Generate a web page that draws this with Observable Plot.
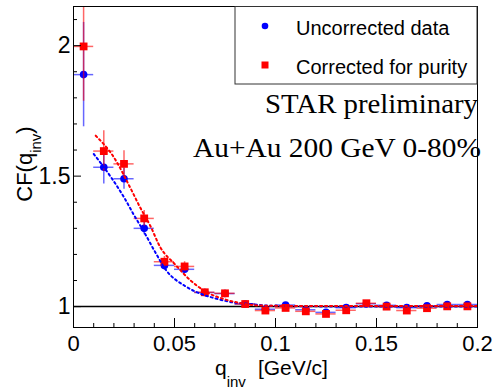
<!DOCTYPE html>
<html><head><meta charset="utf-8">
<script src="https://cdn.jsdelivr.net/npm/d3@7"></script>
<script src="https://cdn.jsdelivr.net/npm/@observablehq/plot@0.6"></script>
<style>body{margin:0;background:#fff;}</style>
</head><body><div id="chart"></div>
<script>
// ---- data ----
const qinv = [0.005,0.015,0.025,0.035,0.045,0.055,0.065,0.075,0.085,0.095,0.105,0.115,0.125,0.135,0.145,0.155,0.165,0.175,0.185,0.195];
const cfUncorr = [1.889,1.534,1.490,1.300,1.158,1.143,1.054,1.050,1.010,0.990,1.006,0.988,0.978,0.996,1.011,1.005,0.996,1.003,1.008,1.008];
const errUncorr = [0.200,0.064,0.040,0.025,0.018,0.015,0.010,0.010,0.008,0.006,0.006,0.006,0.005,0.005,0.005,0.005,0.005,0.005,0.005,0.005];
const cfCorr = [1.997,1.596,1.547,1.338,1.172,1.154,1.055,1.051,1.010,0.985,0.995,0.982,0.972,0.986,1.013,1.000,0.985,0.994,1.001,1.001];
const errCorr = [0.210,0.078,0.050,0.030,0.020,0.018,0.012,0.012,0.009,0.007,0.007,0.007,0.006,0.006,0.006,0.006,0.006,0.006,0.006,0.006];
const binHalfWidth = 0.005;

const fitUncorrQ = [0.010,0.018,0.025,0.030,0.035,0.040,0.046,0.055,0.063,0.071,0.079,0.088,0.096,0.120,0.160,0.200];
const fitUncorrCF = [1.585,1.502,1.419,1.350,1.285,1.215,1.138,1.080,1.049,1.030,1.016,1.010,1.004,1.001,1.000,1.000];
const fitCorrQ = [0.011,0.020,0.028,0.033,0.038,0.043,0.050,0.058,0.066,0.074,0.083,0.093,0.120,0.160,0.200];
const fitCorrCF = [1.655,1.572,1.457,1.380,1.310,1.227,1.164,1.100,1.055,1.030,1.013,1.004,1.002,1.002,1.002];

const xMajor = [0,0.05,0.1,0.15,0.2];
const xMinor = [0.01,0.02,0.03,0.04,0.06,0.07,0.08,0.09,0.11,0.12,0.13,0.14,0.16,0.17,0.18,0.19];
const yMajor = [1,1.5,2];
const yMinor = [1.1,1.2,1.3,1.4,1.6,1.7,1.8,1.9,2.1];

const legendLabels = ["Uncorrected data","Corrected for purity"];
const annot = ["STAR preliminary","Au+Au 200 GeV 0-80%"];

// ---- build ----
const uncorr = qinv.map((q,i)=>({q, cf:cfUncorr[i], err:errUncorr[i]}));
const corr = qinv.map((q,i)=>({q, cf:cfCorr[i], err:errCorr[i]}));
const fitU = fitUncorrQ.map((q,i)=>({q, cf:fitUncorrCF[i]}));
const fitC = fitCorrQ.map((q,i)=>({q, cf:fitCorrCF[i]}));

const W=493, H=392, mL=73, mR=16, mT=6, mB=65;
const fw = W-mL-mR, fh = H-mT-mB;
const BLUE="#0000ff", RED="#ff0000";

function series(data, color, symbol, r) {
  return [
    Plot.ruleX(data, {x:"q", y1:d=>d.cf-d.err, y2:d=>d.cf+d.err, stroke:color, strokeOpacity:0.6, strokeWidth:1.5, clip:true}),
    Plot.ruleY(data, {y:"cf", x1:d=>d.q-binHalfWidth, x2:d=>d.q+binHalfWidth, stroke:color, strokeOpacity:0.6, strokeWidth:1.5, clip:true}),
    Plot.dot(data, {x:"q", y:"cf", r, symbol, fill:color, stroke:"none"})
  ];
}

const svg = Plot.plot({
  width: W, height: H,
  marginLeft: mL, marginRight: mR, marginTop: mT, marginBottom: mB,
  style: {fontFamily:"'Liberation Sans', Arial, sans-serif", background:"white", color:"black", overflow:"visible"},
  x: {domain:[0,0.2]},
  y: {domain:[0.92,2.15]},
  marks: [
    Plot.ruleY([1], {stroke:"black", strokeWidth:1.5}),
    ...series(uncorr, BLUE, "circle", 3.8),
    ...series(corr, RED, "square", 4.4),
    Plot.line(fitU, {x:"q", y:"cf", stroke:BLUE, strokeWidth:2, strokeDasharray:"2,3", curve:"monotone-x"}),
    Plot.line(fitC, {x:"q", y:"cf", stroke:RED, strokeWidth:2, strokeDasharray:"2,3", curve:"monotone-x"}),
    Plot.tickX(xMinor, {x:d=>d, insetTop: fh-4, stroke:"black"}),
    Plot.tickX(xMajor, {x:d=>d, insetTop: fh-9, stroke:"black"}),
    Plot.tickY(yMinor, {y:d=>d, insetRight: fw-4, stroke:"black"}),
    Plot.tickY(yMajor, {y:d=>d, insetRight: fw-8, stroke:"black"}),
    Plot.axisX({ticks:xMajor, tickSize:0, tickPadding:8, fontSize:22, tickFormat:d=>String(d), label:null}),
    Plot.axisY({ticks:yMajor, tickSize:0, tickPadding:3, fontSize:23, tickFormat:d=>String(d), label:null}),
    Plot.frame({stroke:"black", strokeWidth:1})
  ]
});

const s = d3.select(svg);
const sans = "'Liberation Sans', Arial, sans-serif";
const serif = "'Liberation Serif', 'Times New Roman', serif";

// axis titles
const xt = s.append("text").attr("x",215).attr("y",375).attr("text-anchor","start").attr("font-family",sans).attr("font-size",21).attr("fill","black");
xt.append("tspan").text("q");
xt.append("tspan").attr("dy",12).attr("font-size",15).text("inv");
xt.append("tspan").attr("dy",-12).attr("dx",12).text("[GeV/c]");

const yt = s.append("text").attr("transform","translate(32,164) rotate(-90)").attr("text-anchor","middle").attr("font-family",sans).attr("font-size",22).attr("fill","black");
yt.append("tspan").text("CF(q");
yt.append("tspan").attr("dy",9).attr("font-size",15).text("inv");
yt.append("tspan").attr("dy",-9).text(")");

// legend
const lg = s.append("g").attr("text-anchor","start");
lg.append("rect").attr("x",235).attr("y",6.5).attr("width",242).attr("height",77.5).attr("fill","white").attr("stroke","#333").attr("stroke-width",1);
lg.append("circle").attr("cx",265).attr("cy",26).attr("r",3.3).attr("fill",BLUE);
lg.append("rect").attr("x",261.5).attr("y",61.5).attr("width",7).attr("height",7).attr("fill",RED);
lg.append("text").attr("x",296).attr("y",35).attr("text-anchor","start").attr("font-family",sans).attr("font-size",20).attr("fill","black").text(legendLabels[0]);
lg.append("text").attr("x",296).attr("y",74).attr("text-anchor","start").attr("font-family",sans).attr("font-size",20).attr("fill","black").text(legendLabels[1]);

// annotations
s.append("text").attr("x",265).attr("y",113).attr("text-anchor","start").attr("textLength",213).attr("lengthAdjust","spacingAndGlyphs").attr("font-family",serif).attr("font-size",27).attr("fill","black").text(annot[0]);
s.append("text").attr("x",193).attr("y",157).attr("text-anchor","start").attr("textLength",288).attr("lengthAdjust","spacingAndGlyphs").attr("font-family",serif).attr("font-size",27).attr("fill","black").text(annot[1]);

document.getElementById("chart").appendChild(svg);
</script>
</body></html>
